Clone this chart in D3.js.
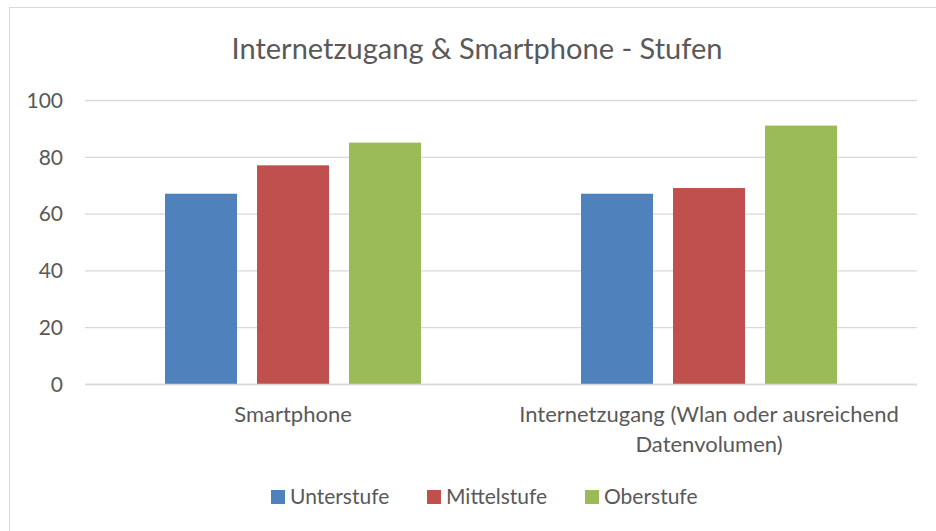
<!DOCTYPE html>
<html>
<head>
<meta charset="utf-8">
<script src="https://cdn.jsdelivr.net/npm/d3@7"></script>
<style>
  body { margin: 0; background: #fff; }
  svg text { font-family: Lato, "Open Sans", sans-serif; fill: #595959; }
</style>
</head>
<body>
<div id="chart"></div>
<script>
const categories = ["Smartphone", "Internetzugang (Wlan oder ausreichend Datenvolumen)"];
const categoryLines = [["Smartphone"], ["Internetzugang (Wlan oder ausreichend", "Datenvolumen)"]];
const seriesNames = ["Unterstufe", "Mittelstufe", "Oberstufe"];
const unterstufe = [67, 67];
const mittelstufe = [77, 69];
const oberstufe = [85, 91];
const yTicks = [0, 20, 40, 60, 80, 100];
const colors = ["#4F81BD", "#C0504D", "#9BBB59"];

const W = 936, H = 531;
const plot = { left: 85, right: 917, top: 100, bottom: 384 };

const values = [unterstufe, mittelstufe, oberstufe];
const data = [];
categories.forEach((c, i) => {
  seriesNames.forEach((s, j) => data.push({ cat: c, series: s, value: values[j][i] }));
});

const svg = d3.select("#chart")
  .append("svg")
  .attr("width", W)
  .attr("height", H);

// chart frame
svg.append("rect")
  .attr("x", 9.5).attr("y", 7.5)
  .attr("width", W).attr("height", H)
  .attr("fill", "#fff")
  .attr("stroke", "#d9d9d9");

svg.append("text")
  .attr("x", 477).attr("y", 59)
  .attr("text-anchor", "middle")
  .style("font-size", "29px")
  .text("Internetzugang & Smartphone - Stufen");

const x0 = d3.scaleBand().domain(categories).range([plot.left, plot.right]).paddingInner(0).paddingOuter(0);
const x1 = d3.scaleBand().domain(seriesNames).range([0, x0.bandwidth()]).paddingInner(0.2174).paddingOuter(0.8696);
const y = d3.scaleLinear().domain([0, 100]).range([plot.bottom, plot.top]);
const color = d3.scaleOrdinal().domain(seriesNames).range(colors);

// gridlines
svg.append("g")
  .selectAll("line")
  .data(yTicks)
  .enter()
  .append("line")
  .attr("x1", plot.left).attr("x2", plot.right)
  .attr("y1", (d) => y(d) + 0.5).attr("y2", (d) => y(d) + 0.5)
  .attr("stroke", "#d9d9d9")
  .attr("stroke-width", 1.3);

const yAxis = d3.axisLeft(y).tickValues(yTicks).tickSize(0).tickPadding(0);
svg.append("g")
  .attr("transform", "translate(63,0)")
  .call(yAxis)
  .call((g) => g.select(".domain").remove())
  .selectAll("text")
  .style("font-size", "21px")
  .attr("dy", "0.35em")
  .style("font-family", "Lato, sans-serif")
  .attr("fill", "#595959");

svg.append("g")
  .selectAll("rect")
  .data(data)
  .enter()
  .append("rect")
  .attr("x", (d) => x0(d.cat) + x1(d.series))
  .attr("y", (d) => y(d.value))
  .attr("width", x1.bandwidth())
  .attr("height", (d) => y(0) - y(d.value))
  .attr("fill", (d) => color(d.series));

// baseline over bars
svg.append("line")
  .attr("x1", plot.left).attr("x2", plot.right)
  .attr("y1", y(0) + 0.5).attr("y2", y(0) + 0.5)
  .attr("stroke", "#d9d9d9")
  .attr("stroke-width", 1.3);

// category labels
const catLabels = svg.append("g")
  .selectAll("text")
  .data(categories)
  .enter()
  .append("text")
  .attr("text-anchor", "middle")
  .attr("x", (d) => x0(d) + x0.bandwidth() / 2)
  .attr("y", 422)
  .style("font-size", "22px");

catLabels.each(function (d, i) {
  d3.select(this)
    .selectAll("tspan")
    .data(categoryLines[i])
    .enter()
    .append("tspan")
    .attr("x", x0(d) + x0.bandwidth() / 2)
    .attr("dy", (t, k) => (k === 0 ? 0 : 30))
    .text((t) => t);
});

// legend
const legendX = [271, 427, 585];
const legend = svg.append("g")
  .selectAll("g")
  .data(seriesNames)
  .enter()
  .append("g")
  .attr("transform", (d, i) => "translate(" + legendX[i] + ",490)");

legend.append("rect")
  .attr("width", 14)
  .attr("height", 14)
  .attr("fill", (d) => color(d));

legend.append("text")
  .attr("x", 19)
  .attr("y", 14)
  .style("font-size", "21px")
  .text((d) => d);
</script>
</body>
</html>
